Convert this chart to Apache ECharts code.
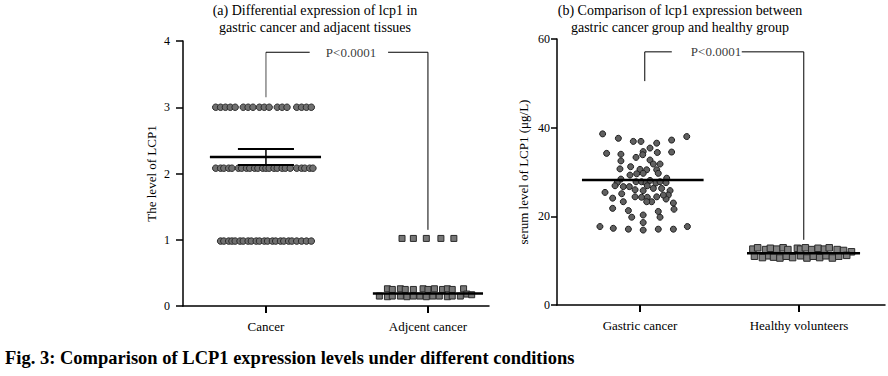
<!DOCTYPE html>
<html>
<head>
<meta charset="utf-8">
<script src="https://cdn.jsdelivr.net/npm/echarts@6/dist/echarts.min.js"></script>
<style>
html,body{margin:0;padding:0;background:#fff;}
#chart{width:888px;height:376px;}
</style>
</head>
<body>
<div id="chart"></div>
<script>
// ---------- data ----------
const leftCategories = ['Cancer', 'Adjcent cancer'];
const rightCategories = ['Gastric cancer', 'Healthy volunteers'];
const leftTitle = '(a) Differential expression of lcp1 in\ngastric cancer and adjacent tissues';
const rightTitle = '(b) Comparison of lcp1 expression between\ngastric cancer group and healthy group';
const leftYName = 'The level of LCP1';
const rightYName = 'serum level of LCP1 (\u03bcg/L)';
const caption = 'Fig. 3: Comparison of LCP1 expression levels under different conditions';
const pText = 'P<0.0001';

// Cancer (left, circles): [jittered x, level]
const cancerPoints = [
  [0.69,3.0],[0.72,3.0],[0.75,3.0],[0.78,3.0],[0.81,3.0],[0.86,3.0],[0.89,3.0],[0.92,3.0],[0.96,3.0],
  [0.99,3.0],[1.02,3.0],[1.07,3.0],[1.10,3.0],[1.13,3.0],[1.19,3.0],[1.22,3.0],[1.25,3.0],[1.28,3.0],
  [0.69,2.08],[0.72,2.08],[0.74,2.08],[0.77,2.08],[0.79,2.08],[0.83,2.08],[0.85,2.08],[0.88,2.08],
  [0.90,2.08],[0.93,2.08],[0.95,2.08],[0.98,2.08],[1.00,2.08],[1.02,2.08],[1.05,2.08],[1.07,2.08],
  [1.10,2.08],[1.12,2.08],[1.15,2.08],[1.19,2.08],[1.22,2.08],[1.24,2.08],[1.27,2.08],[1.29,2.08],
  [0.72,0.98],[0.74,0.98],[0.77,0.98],[0.79,0.98],[0.81,0.98],[0.84,0.98],[0.86,0.98],[0.89,0.98],
  [0.91,0.98],[0.94,0.98],[0.96,0.98],[0.99,0.98],[1.01,0.98],[1.04,0.98],[1.06,0.98],[1.09,0.98],
  [1.11,0.98],[1.14,0.98],[1.16,0.98],[1.19,0.98],[1.22,0.98],[1.25,0.98],[1.28,0.98]
];
// Adjacent (left, squares)
const adjacentPoints = [
  [1.84,1.02],[1.91,1.02],[1.99,1.02],[2.08,1.02],[2.16,1.02],
  [1.75,0.26],[1.78,0.25],[1.83,0.26],[1.86,0.25],[1.91,0.25],[1.97,0.26],[2.00,0.25],[2.04,0.26],
  [2.09,0.25],[2.12,0.26],[2.15,0.25],[2.22,0.26],
  [1.70,0.15],[1.75,0.14],[1.78,0.15],[1.83,0.15],[1.87,0.14],[1.91,0.15],[1.95,0.15],[1.99,0.14],
  [2.03,0.15],[2.07,0.15],[2.12,0.14],[2.15,0.15],[2.20,0.15],[2.24,0.18],[2.27,0.17]
];
// Gastric cancer (right, circles)
const gastricPoints = [
  [0.765,38.6],[0.864,37.6],[0.958,36.9],[1.006,36.9],[1.105,36.5],[1.199,37.2],[1.294,38.0],
  [0.79,34.2],[0.88,34.0],[0.975,33.3],[1.02,34.6],[1.063,35.4],[1.109,34.4],[1.199,34.5],[1.017,33.9],
  [0.88,32.5],[1.063,32.7],[1.084,31.8],[1.126,31.8],
  [0.874,30.7],[0.941,31.2],[1.0,30.6],[1.042,30.5],[1.105,30.5],
  [0.979,29.6],[0.937,29.3],[1.02,29.7],[1.115,29.7],[1.168,28.6],
  [0.88,28.4],[0.857,27.6],[0.843,26.9],[0.895,26.7],[0.933,26.7],[0.975,27.8],[1.01,27.8],
  [1.038,27.5],[1.063,28.1],[1.1,27.5],[1.126,27.8],[1.164,27.6],
  [0.78,25.4],[0.828,24.1],[0.885,25.1],[0.969,26.0],[1.02,25.8],[1.046,26.9],[1.084,26.3],
  [1.136,26.3],[1.189,25.8],[1.178,24.8],[1.164,23.9],
  [0.895,23.3],[0.969,24.4],[1.01,24.3],[1.046,24.3],[1.073,23.3],[1.042,23.3],[1.105,24.4],
  [1.147,24.8],[1.21,23.0],[1.214,21.6],
  [0.828,21.8],[0.927,21.3],[1.02,20.3],[1.115,21.1],[1.126,19.8],[0.948,19.8],[1.02,18.6],
  [0.748,17.7],[0.832,17.3],[0.927,17.1],[1.02,16.9],[1.115,17.1],[1.21,17.1],[1.298,17.7]
];
// Healthy volunteers (right, squares)
const healthyPoints = [
  [1.71,12.6],[1.74,12.9],[1.79,12.5],[1.82,12.8],[1.86,12.6],[1.90,12.9],[1.93,12.5],[1.99,12.8],
  [2.01,12.6],[2.04,12.9],[2.08,12.5],[2.12,12.8],[2.16,12.6],[2.19,12.9],[2.24,12.5],[2.28,12.3],[2.33,12.0],
  [1.72,11.0],[1.77,10.7],[1.81,11.1],[1.84,10.8],[1.88,10.6],[1.92,11.0],[1.96,10.7],[2.01,11.1],
  [2.05,10.6],[2.09,11.0],[2.13,10.7],[2.17,11.1],[2.21,10.6],[2.25,11.0],[2.30,11.2]
];
// means and error bars
const leftMeans = [2.25, 0.19];
const cancerSem = [2.13, 2.37];
const rightMeans = [28.2, 11.7];
// significance brackets: [x, y] vertices
const leftBracketA = [[1, 3.15], [1, 3.83]];
const leftBracketB = [[1, 3.83], [1.27, 3.83]];
const leftBracketC = [[1.754, 3.83], [2, 3.83], [2, 1.15]];
const leftPPos = [1.525, 3.83];
const rightBracketA = [[1.03, 50.5], [1.03, 57.1], [1.2, 57.1]];
const rightBracketB = [[1.64, 57.1], [2.03, 57.1], [2.03, 14.7]];
const rightPPos = [1.478, 57.1];

// ---------- chart ----------
const serif = '"Liberation Serif", "Times New Roman", serif';
const chart = echarts.init(document.getElementById('chart'), null, {renderer: 'svg'});

function seg(coords, color, width) {
  return {coords: coords, lineStyle: {color: color, width: width, opacity: 1}};
}

function xAxisCfg(gridIndex, min, max, names) {
  return {
    type: 'value', gridIndex: gridIndex, min: min, max: max,
    splitLine: {show: false},
    axisLine: {show: true, lineStyle: {color: '#000', width: 1.5}},
    axisTick: {show: true, customValues: [1, 2], length: 7, inside: false, lineStyle: {color: '#000', width: 2}},
    axisLabel: {show: true, customValues: [1, 2], margin: 14, color: '#000', fontFamily: serif, fontSize: 13,
      formatter: function (v) { return names[Math.round(v) - 1]; }}
  };
}
function yAxisCfg(gridIndex, max, interval, name, nameGap, tickLen, margin) {
  return {
    type: 'value', gridIndex: gridIndex, min: 0, max: max, interval: interval,
    name: name, nameLocation: 'middle', nameGap: nameGap, nameRotate: 90,
    nameTextStyle: {color: '#000', fontFamily: serif, fontSize: 13},
    splitLine: {show: false},
    axisLine: {show: true, lineStyle: {color: '#000', width: 1.5}},
    axisTick: {show: true, length: tickLen, lineStyle: {color: '#000', width: 1.5}},
    axisLabel: {margin: margin, color: '#000', fontFamily: serif, fontSize: 12}
  };
}

const option = {
  backgroundColor: '#fff',
  animation: false,
  grid: [
    {left: 183, top: 41, width: 306, height: 265},
    {left: 557, top: 39, width: 328, height: 266}
  ],
  xAxis: [
    xAxisCfg(0, 0.488, 0.488 + 306 / 162, leftCategories),
    xAxisCfg(1, 0.478, 0.478 + 328 / 159, rightCategories)
  ],
  yAxis: [
    yAxisCfg(0, 4, 1, leftYName, 25, 7, 13),
    yAxisCfg(1, 60, 20, rightYName, 27, 6, 7)
  ],
  graphic: [
    {type: 'text', x: 315, y: 2, style: {text: leftTitle, fill: '#000', font: '14px ' + serif, textAlign: 'center', lineHeight: 17}},
    {type: 'text', x: 680, y: 2, style: {text: rightTitle, fill: '#000', font: '14px ' + serif, textAlign: 'center', lineHeight: 17}},
    {type: 'text', x: 5, y: 348, style: {text: caption, fill: '#000', font: 'bold 18.5px ' + serif, textAlign: 'left'}}
  ],
  series: [
    {type: 'scatter', xAxisIndex: 0, yAxisIndex: 0, data: cancerPoints, symbol: 'circle', symbolSize: 6.5,
      itemStyle: {color: '#707070', borderColor: '#2a2a2a', borderWidth: 1, opacity: 1}},
    {type: 'scatter', xAxisIndex: 0, yAxisIndex: 0, data: adjacentPoints, symbol: 'rect', symbolSize: 6,
      itemStyle: {color: '#777', borderColor: '#2a2a2a', borderWidth: 1, opacity: 1}},
    {type: 'scatter', xAxisIndex: 1, yAxisIndex: 1, data: gastricPoints, symbol: 'circle', symbolSize: 6,
      itemStyle: {color: '#606060', borderColor: '#1e1e1e', borderWidth: 1, opacity: 1}},
    {type: 'scatter', xAxisIndex: 1, yAxisIndex: 1, data: healthyPoints, symbol: 'rect', symbolSize: 6.5,
      itemStyle: {color: '#808080', borderColor: '#2a2a2a', borderWidth: 1, opacity: 1}},
    {type: 'lines', coordinateSystem: 'cartesian2d', xAxisIndex: 0, yAxisIndex: 0, polyline: true, z: 5,
      lineStyle: {opacity: 1},
      data: [
        seg([[0.654, leftMeans[0]], [1.34, leftMeans[0]]], '#000', 2.5),
        seg([[1.66, leftMeans[1]], [2.34, leftMeans[1]]], '#000', 2.5),
        seg([[1, cancerSem[0]], [1, cancerSem[1]]], '#000', 1.5),
        seg([[0.827, cancerSem[1]], [1.173, cancerSem[1]]], '#000', 2),
        seg([[0.827, cancerSem[0]], [1.173, cancerSem[0]]], '#000', 2),
        seg(leftBracketA, '#888', 1.5),
        seg(leftBracketB, '#000', 1),
        seg(leftBracketC, '#000', 1)
      ]},
    {type: 'lines', coordinateSystem: 'cartesian2d', xAxisIndex: 1, yAxisIndex: 1, polyline: true, z: 5,
      lineStyle: {opacity: 1},
      data: [
        seg([[0.635, rightMeans[0]], [1.40, rightMeans[0]]], '#000', 2.5),
        seg([[1.673, rightMeans[1]], [2.384, rightMeans[1]]], '#000', 2.5),
        seg(rightBracketA, '#000', 1),
        seg(rightBracketB, '#000', 1)
      ]},
    {type: 'scatter', xAxisIndex: 0, yAxisIndex: 0, data: [leftPPos], symbolSize: 1, z: 6,
      itemStyle: {color: 'rgba(0,0,0,0)'},
      label: {show: true, position: 'inside', formatter: pText, color: '#000', fontFamily: serif, fontSize: 13}},
    {type: 'scatter', xAxisIndex: 1, yAxisIndex: 1, data: [rightPPos], symbolSize: 1, z: 6,
      itemStyle: {color: 'rgba(0,0,0,0)'},
      label: {show: true, position: 'inside', formatter: pText, color: '#000', fontFamily: serif, fontSize: 13}}
  ]
};
chart.setOption(option);
</script>
</body>
</html>
